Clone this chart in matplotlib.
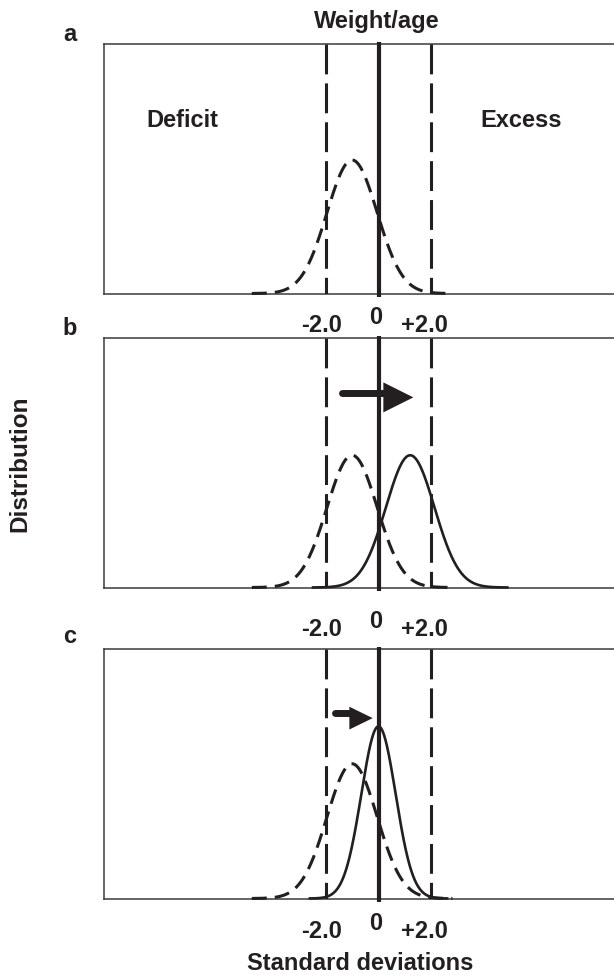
import numpy as np
import matplotlib
matplotlib.use("Agg")
import matplotlib.pyplot as plt

plt.rcParams['font.family'] = ['Liberation Sans', 'DejaVu Sans']
plt.rcParams['font.weight'] = 'bold'
plt.rcParams['lines.scale_dashes'] = False

# ---------------- data ----------------
panel_letters = ['a', 'b', 'c']
cutoff_sd = [-2.0, 0.0, 2.0]                 # reference lines (SD)
cutoff_labels = ['-2.0', '0', '+2.0']
region_labels = ['Deficit', 'Excess']
region_label_x = [-7.42, 5.42]               # SD position of region labels

# reference (dashed) distribution in every panel
ref_mean = [-1.0, -1.0, -1.0]
ref_sd = [0.95, 0.95, 0.95]
ref_peak = [0.535, 0.53, 0.54]

# shifted (solid) distribution; none in panel a
new_mean = [None, 1.2, 0.0]
new_sd = [None, 0.92, 0.65]
new_peak = [None, 0.53, 0.69]
span_sd = 4.0                                 # curves drawn to +/- 4 SD

# shift arrows (start, tip) in SD, heights as fraction
arrow_start = [None, -1.39, -1.65]
arrow_tip = [None, 1.32, -0.22]
arrow_shaft_y = [None, 0.78, 0.745]
arrow_head_y = [None, 0.762, 0.723]

title = 'Weight/age'
xlabel = 'Standard deviations'
ylabel = 'Distribution'

# ---------------- layout ----------------
W, H = 614, 975
INK = '#231f20'
FS = 17
fig = plt.figure(figsize=(W / 100, H / 100), dpi=100)
fig.patch.set_facecolor('white')

left_px = 104
zero_px = 378.5
px_per_sd = 26.4
ax_h = 249.5
tops = [44, 338, 649]
letter_base = [40.7, 335, 643.3]
# baseline offsets (px below axes bottom) for -2.0/+2.0 and for 0
lab_off = [(38.8, 30.8), (49.0, 40.0), (39.3, 31.3)]
lab_dx = [-4, -2.5, -7.3]
head_len = [None, 1.08, 0.84]
head_wid = [None, 1.08, 0.82]

xlim = ((left_px - zero_px) / px_per_sd, (W - zero_px) / px_per_sd)


def fy(y):
    return 1 - y / H


for i, top in enumerate(tops):
    ax = fig.add_axes([left_px / W, 1 - (top + ax_h) / H, (W - left_px) / W, ax_h / H])
    ax.set_xlim(*xlim)
    ax.set_ylim(0, 1)
    ax.set_xticks([])
    ax.set_yticks([])
    ax.spines['right'].set_visible(False)
    for s in ['left', 'top', 'bottom']:
        ax.spines[s].set_linewidth(1.1)
        ax.spines[s].set_color('#3a3a3a')

    # vertical cut-off lines
    for v in cutoff_sd:
        if v == 0:
            ax.plot([v, v], [-0.014, 1.008], color=INK, lw=3.0,
                    solid_capstyle='butt', clip_on=False, zorder=5)
        else:
            ax.plot([v, v], [1, 0], color=INK, lw=2.2,
                    linestyle=(0, (21.5, 6.5)), zorder=3)

    # reference dashed curve
    m, s, p = ref_mean[i], ref_sd[i], ref_peak[i]
    x = np.linspace(m - span_sd * s, m + span_sd * s, 400)
    ax.plot(x, p * np.exp(-(x - m) ** 2 / (2 * s * s)), color=INK, lw=2.2,
            linestyle=(0, (10.8, 5.8)), zorder=4, clip_on=False)

    # shifted solid curve
    if new_mean[i] is not None:
        m, s, p = new_mean[i], new_sd[i], new_peak[i]
        x = np.linspace(m - span_sd * s, m + span_sd * s, 400)
        ax.plot(x, p * np.exp(-(x - m) ** 2 / (2 * s * s)), color=INK, lw=1.9,
                zorder=4, clip_on=False)

    # arrow: rounded shaft + filled head
    if arrow_start[i] is not None:
        hl_sd = head_len[i] * 20 * 100 / 72 / px_per_sd
        ax.plot([arrow_start[i], arrow_tip[i] - hl_sd * 0.9],
                [arrow_shaft_y[i], arrow_shaft_y[i]], color=INK, lw=5.0,
                solid_capstyle='round', zorder=6)
        ax.annotate('', xy=(arrow_tip[i], arrow_head_y[i]),
                    xytext=(arrow_start[i], arrow_head_y[i]),
                    arrowprops=dict(arrowstyle=f'simple,head_length={head_len[i]},'
                                               f'head_width={head_wid[i]},tail_width=0.0',
                                    mutation_scale=20, color=INK, lw=0,
                                    shrinkA=0, shrinkB=0), zorder=6)

    # cut-off labels below the panel
    for v, lab, dx in zip(cutoff_sd, cutoff_labels, lab_dx):
        off = lab_off[i][1] if v == 0 else lab_off[i][0]
        ax.annotate(lab, xy=(v, 0), xycoords=('data', 'axes fraction'),
                    xytext=(dx, -off), textcoords='offset pixels',
                    ha='center', va='baseline', fontsize=FS, color=INK,
                    fontweight='bold', annotation_clip=False)

    # region labels in panel a
    if i == 0:
        for lx, lab in zip(region_label_x, region_labels):
            ax.text(lx, (top + ax_h - 126.7) / ax_h, lab, ha='center', va='baseline',
                    fontsize=FS, color=INK, fontweight='bold')

    fig.text(69.5 / W, fy(letter_base[i]), panel_letters[i], ha='center', va='baseline',
             fontsize=FS, color=INK, fontweight='bold')

fig.text(377 / W, fy(28.3), title, ha='center', va='baseline', fontsize=FS,
         color=INK, fontweight='bold')
fig.text(360 / W, fy(970), xlabel, ha='center', va='baseline', fontsize=FS,
         color=INK, fontweight='bold')
fig.text(20 / W, fy(464), ylabel, ha='center', va='center', rotation=90,
         fontsize=FS + 0.5, color=INK, fontweight='bold')

fig.savefig('out.png', dpi=100, facecolor='white')
